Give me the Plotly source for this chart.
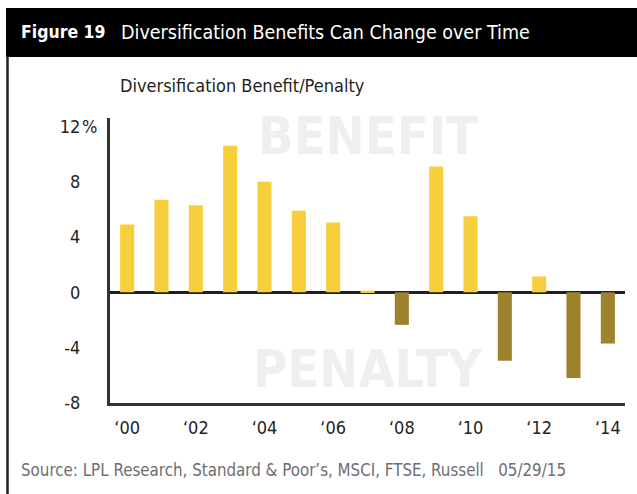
import plotly.graph_objects as go

# ---- data ----
years = list(range(2000, 2015))
values = [4.9, 6.7, 6.3, 10.6, 8.0, 5.9, 5.05, 0.12, -2.35, 9.1, 5.5, -4.95, 1.15, -6.2, -3.7]
x_tick_vals = [2000, 2002, 2004, 2006, 2008, 2010, 2012, 2014]
x_tick_text = ["‘00", "‘02", "‘04", "‘06", "‘08", "‘10", "‘12", "‘14"]
y_tick_vals = [-8, -4, 0, 4, 8, 12]
y_tick_text = ["-8", "-4", "0", "4", "8", "12"]

POS = "#F7CF3C"
NEG = "#9E822E"
FONT = "DejaVu Sans Condensed, Liberation Sans Narrow, Roboto, sans-serif"

W, H = 637, 494
L, R, T, B = 110, 12, 118, 91
pw, ph = W - L - R, H - T - B


def px(xp):
    return (xp - L) / pw


def py(yp):
    return 1 - (yp - T) / ph


colors = [POS if v >= 0 else NEG for v in values]

fig = go.Figure()
fig.add_trace(go.Bar(x=years, y=values, marker=dict(color=colors, line=dict(width=0)),
                     width=0.41, hoverinfo="x+y"))

annotations = [
    dict(text="<b>Figure 19</b>", x=px(19), y=py(32.5), xref="paper", yref="paper",
         xanchor="left", yanchor="middle", showarrow=False,
         font=dict(family=FONT, size=17.5, color="white")),
    dict(text="Diversification Benefits Can Change over Time", x=px(119), y=py(32.5),
         xref="paper", yref="paper", xanchor="left", yanchor="middle", showarrow=False,
         font=dict(family=FONT, size=19.5, color="white")),
    dict(text="Diversification Benefit/Penalty", x=px(118), y=py(85),
         xref="paper", yref="paper", xanchor="left", yanchor="middle", showarrow=False,
         font=dict(family=FONT, size=18, color="#231F20")),
    dict(text="Source: LPL Research, Standard &amp; Poor’s, MSCI, FTSE, Russell   05/29/15",
         x=px(19), y=py(470), xref="paper", yref="paper", xanchor="left", yanchor="middle",
         showarrow=False, font=dict(family=FONT, size=16.8, color="#6D6E71")),
    dict(text="<b>BENEFIT</b>", x=px(368), y=py(136), xref="paper", yref="paper",
         xanchor="center", yanchor="middle", showarrow=False,
         font=dict(family=FONT, size=52, color="#EFEFEF")),
    dict(text="<b>PENALTY</b>", x=px(368), y=py(369), xref="paper", yref="paper",
         xanchor="center", yanchor="middle", showarrow=False,
         font=dict(family=FONT, size=52, color="#EFEFEF")),
    dict(text="%", x=1999.5, y=12, xref="x", yref="y", xanchor="right", yanchor="middle",
         xshift=-11, showarrow=False, font=dict(family=FONT, size=18, color="#231F20")),
]

shapes = [
    dict(type="rect", xref="paper", yref="paper", x0=px(6), x1=px(W + 2), y0=py(8), y1=py(57),
         fillcolor="black", line=dict(width=0), layer="below"),
    dict(type="line", xref="paper", yref="paper", x0=px(7.5), x1=px(7.5), y0=py(56), y1=py(H + 2),
         line=dict(color="#231F20", width=2.5)),
]

fig.update_layout(
    width=W, height=H,
    margin=dict(l=L, r=R, t=T, b=B, pad=0),
    paper_bgcolor="white", plot_bgcolor="rgba(0,0,0,0)",
    showlegend=False,
    annotations=annotations,
    shapes=shapes,
    font=dict(family=FONT, size=18, color="#231F20"),
)
fig.update_xaxes(range=[1999.5, 2014.5], tickvals=x_tick_vals, ticktext=x_tick_text,
                 showgrid=False, zeroline=False, showline=True, linecolor="#333333", linewidth=3,
                 ticks="", ticklabelstandoff=6, tickfont=dict(family=FONT, size=18, color="#231F20"),
                 fixedrange=True)
fig.update_yaxes(range=[-8, 12.6], tickvals=y_tick_vals, ticktext=y_tick_text,
                 showgrid=False, zeroline=True, zerolinecolor="#231F20", zerolinewidth=2.5,
                 showline=True, linecolor="#333333", linewidth=3, ticks="",
                 ticklabelstandoff=23, tickfont=dict(family=FONT, size=18, color="#231F20"),
                 fixedrange=True)

fig.write_html("out.html", config={"displayModeBar": False},
               post_script="document.body.style.margin='0';document.body.style.padding='0';")
